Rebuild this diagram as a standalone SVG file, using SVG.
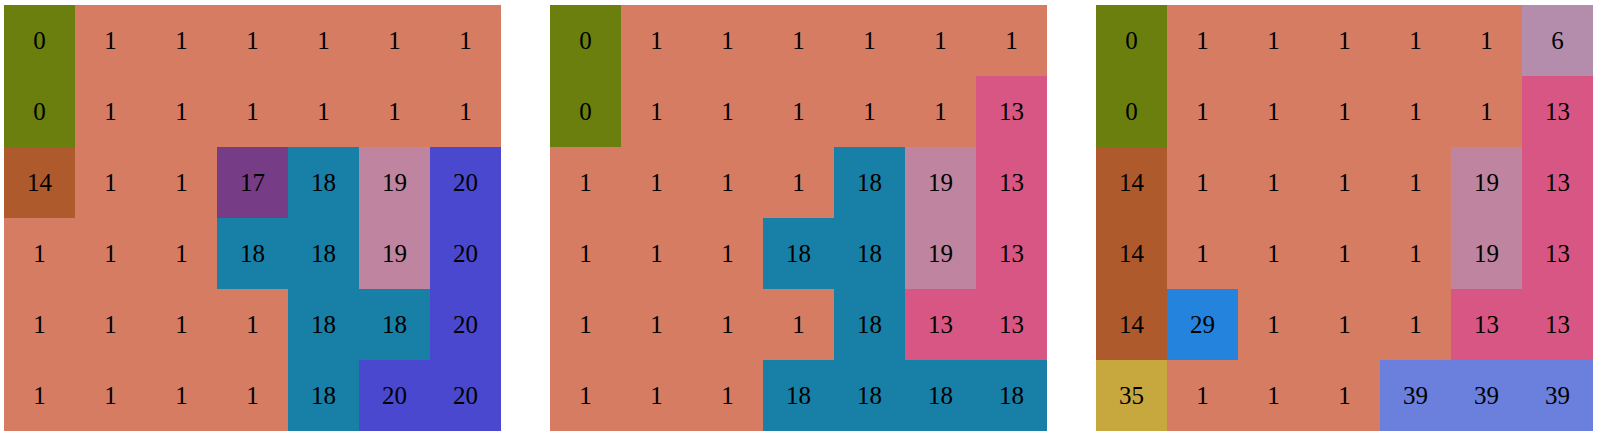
<svg xmlns="http://www.w3.org/2000/svg" width="1597" height="436" viewBox="0 0 1597 436">
<style>
text{font-family:"Liberation Serif","DejaVu Serif",serif;font-size:25px;fill:#000;text-anchor:middle}
rect{stroke:none}
.c0{fill:#6a7f0e}.c1{fill:#d67c62}.c14{fill:#ae5a2d}.c17{fill:#763c86}.c18{fill:#187fa7}.c19{fill:#bf849f}.c20{fill:#4a48cf}.c13{fill:#d85683}.c6{fill:#b38dab}.c29{fill:#2484dd}.c35{fill:#c7a83f}.c39{fill:#6a80dc}
</style>
<rect width="1597" height="436" fill="#fff"/>
<g id="grid1" transform="translate(4,5)">
<rect class="c0" x="0" y="0" width="71" height="71"/><text x="35.5" y="44">0</text>
<rect class="c1" x="71" y="0" width="71" height="71"/><text x="106.5" y="44">1</text>
<rect class="c1" x="142" y="0" width="71" height="71"/><text x="177.5" y="44">1</text>
<rect class="c1" x="213" y="0" width="71" height="71"/><text x="248.5" y="44">1</text>
<rect class="c1" x="284" y="0" width="71" height="71"/><text x="319.5" y="44">1</text>
<rect class="c1" x="355" y="0" width="71" height="71"/><text x="390.5" y="44">1</text>
<rect class="c1" x="426" y="0" width="71" height="71"/><text x="461.5" y="44">1</text>
<rect class="c0" x="0" y="71" width="71" height="71"/><text x="35.5" y="115">0</text>
<rect class="c1" x="71" y="71" width="71" height="71"/><text x="106.5" y="115">1</text>
<rect class="c1" x="142" y="71" width="71" height="71"/><text x="177.5" y="115">1</text>
<rect class="c1" x="213" y="71" width="71" height="71"/><text x="248.5" y="115">1</text>
<rect class="c1" x="284" y="71" width="71" height="71"/><text x="319.5" y="115">1</text>
<rect class="c1" x="355" y="71" width="71" height="71"/><text x="390.5" y="115">1</text>
<rect class="c1" x="426" y="71" width="71" height="71"/><text x="461.5" y="115">1</text>
<rect class="c14" x="0" y="142" width="71" height="71"/><text x="35.5" y="186">14</text>
<rect class="c1" x="71" y="142" width="71" height="71"/><text x="106.5" y="186">1</text>
<rect class="c1" x="142" y="142" width="71" height="71"/><text x="177.5" y="186">1</text>
<rect class="c17" x="213" y="142" width="71" height="71"/><text x="248.5" y="186">17</text>
<rect class="c18" x="284" y="142" width="71" height="71"/><text x="319.5" y="186">18</text>
<rect class="c19" x="355" y="142" width="71" height="71"/><text x="390.5" y="186">19</text>
<rect class="c20" x="426" y="142" width="71" height="71"/><text x="461.5" y="186">20</text>
<rect class="c1" x="0" y="213" width="71" height="71"/><text x="35.5" y="257">1</text>
<rect class="c1" x="71" y="213" width="71" height="71"/><text x="106.5" y="257">1</text>
<rect class="c1" x="142" y="213" width="71" height="71"/><text x="177.5" y="257">1</text>
<rect class="c18" x="213" y="213" width="71" height="71"/><text x="248.5" y="257">18</text>
<rect class="c18" x="284" y="213" width="71" height="71"/><text x="319.5" y="257">18</text>
<rect class="c19" x="355" y="213" width="71" height="71"/><text x="390.5" y="257">19</text>
<rect class="c20" x="426" y="213" width="71" height="71"/><text x="461.5" y="257">20</text>
<rect class="c1" x="0" y="284" width="71" height="71"/><text x="35.5" y="328">1</text>
<rect class="c1" x="71" y="284" width="71" height="71"/><text x="106.5" y="328">1</text>
<rect class="c1" x="142" y="284" width="71" height="71"/><text x="177.5" y="328">1</text>
<rect class="c1" x="213" y="284" width="71" height="71"/><text x="248.5" y="328">1</text>
<rect class="c18" x="284" y="284" width="71" height="71"/><text x="319.5" y="328">18</text>
<rect class="c18" x="355" y="284" width="71" height="71"/><text x="390.5" y="328">18</text>
<rect class="c20" x="426" y="284" width="71" height="71"/><text x="461.5" y="328">20</text>
<rect class="c1" x="0" y="355" width="71" height="71"/><text x="35.5" y="399">1</text>
<rect class="c1" x="71" y="355" width="71" height="71"/><text x="106.5" y="399">1</text>
<rect class="c1" x="142" y="355" width="71" height="71"/><text x="177.5" y="399">1</text>
<rect class="c1" x="213" y="355" width="71" height="71"/><text x="248.5" y="399">1</text>
<rect class="c18" x="284" y="355" width="71" height="71"/><text x="319.5" y="399">18</text>
<rect class="c20" x="355" y="355" width="71" height="71"/><text x="390.5" y="399">20</text>
<rect class="c20" x="426" y="355" width="71" height="71"/><text x="461.5" y="399">20</text>
</g>
<g id="grid2" transform="translate(550,5)">
<rect class="c0" x="0" y="0" width="71" height="71"/><text x="35.5" y="44">0</text>
<rect class="c1" x="71" y="0" width="71" height="71"/><text x="106.5" y="44">1</text>
<rect class="c1" x="142" y="0" width="71" height="71"/><text x="177.5" y="44">1</text>
<rect class="c1" x="213" y="0" width="71" height="71"/><text x="248.5" y="44">1</text>
<rect class="c1" x="284" y="0" width="71" height="71"/><text x="319.5" y="44">1</text>
<rect class="c1" x="355" y="0" width="71" height="71"/><text x="390.5" y="44">1</text>
<rect class="c1" x="426" y="0" width="71" height="71"/><text x="461.5" y="44">1</text>
<rect class="c0" x="0" y="71" width="71" height="71"/><text x="35.5" y="115">0</text>
<rect class="c1" x="71" y="71" width="71" height="71"/><text x="106.5" y="115">1</text>
<rect class="c1" x="142" y="71" width="71" height="71"/><text x="177.5" y="115">1</text>
<rect class="c1" x="213" y="71" width="71" height="71"/><text x="248.5" y="115">1</text>
<rect class="c1" x="284" y="71" width="71" height="71"/><text x="319.5" y="115">1</text>
<rect class="c1" x="355" y="71" width="71" height="71"/><text x="390.5" y="115">1</text>
<rect class="c13" x="426" y="71" width="71" height="71"/><text x="461.5" y="115">13</text>
<rect class="c1" x="0" y="142" width="71" height="71"/><text x="35.5" y="186">1</text>
<rect class="c1" x="71" y="142" width="71" height="71"/><text x="106.5" y="186">1</text>
<rect class="c1" x="142" y="142" width="71" height="71"/><text x="177.5" y="186">1</text>
<rect class="c1" x="213" y="142" width="71" height="71"/><text x="248.5" y="186">1</text>
<rect class="c18" x="284" y="142" width="71" height="71"/><text x="319.5" y="186">18</text>
<rect class="c19" x="355" y="142" width="71" height="71"/><text x="390.5" y="186">19</text>
<rect class="c13" x="426" y="142" width="71" height="71"/><text x="461.5" y="186">13</text>
<rect class="c1" x="0" y="213" width="71" height="71"/><text x="35.5" y="257">1</text>
<rect class="c1" x="71" y="213" width="71" height="71"/><text x="106.5" y="257">1</text>
<rect class="c1" x="142" y="213" width="71" height="71"/><text x="177.5" y="257">1</text>
<rect class="c18" x="213" y="213" width="71" height="71"/><text x="248.5" y="257">18</text>
<rect class="c18" x="284" y="213" width="71" height="71"/><text x="319.5" y="257">18</text>
<rect class="c19" x="355" y="213" width="71" height="71"/><text x="390.5" y="257">19</text>
<rect class="c13" x="426" y="213" width="71" height="71"/><text x="461.5" y="257">13</text>
<rect class="c1" x="0" y="284" width="71" height="71"/><text x="35.5" y="328">1</text>
<rect class="c1" x="71" y="284" width="71" height="71"/><text x="106.5" y="328">1</text>
<rect class="c1" x="142" y="284" width="71" height="71"/><text x="177.5" y="328">1</text>
<rect class="c1" x="213" y="284" width="71" height="71"/><text x="248.5" y="328">1</text>
<rect class="c18" x="284" y="284" width="71" height="71"/><text x="319.5" y="328">18</text>
<rect class="c13" x="355" y="284" width="71" height="71"/><text x="390.5" y="328">13</text>
<rect class="c13" x="426" y="284" width="71" height="71"/><text x="461.5" y="328">13</text>
<rect class="c1" x="0" y="355" width="71" height="71"/><text x="35.5" y="399">1</text>
<rect class="c1" x="71" y="355" width="71" height="71"/><text x="106.5" y="399">1</text>
<rect class="c1" x="142" y="355" width="71" height="71"/><text x="177.5" y="399">1</text>
<rect class="c18" x="213" y="355" width="71" height="71"/><text x="248.5" y="399">18</text>
<rect class="c18" x="284" y="355" width="71" height="71"/><text x="319.5" y="399">18</text>
<rect class="c18" x="355" y="355" width="71" height="71"/><text x="390.5" y="399">18</text>
<rect class="c18" x="426" y="355" width="71" height="71"/><text x="461.5" y="399">18</text>
</g>
<g id="grid3" transform="translate(1096,5)">
<rect class="c0" x="0" y="0" width="71" height="71"/><text x="35.5" y="44">0</text>
<rect class="c1" x="71" y="0" width="71" height="71"/><text x="106.5" y="44">1</text>
<rect class="c1" x="142" y="0" width="71" height="71"/><text x="177.5" y="44">1</text>
<rect class="c1" x="213" y="0" width="71" height="71"/><text x="248.5" y="44">1</text>
<rect class="c1" x="284" y="0" width="71" height="71"/><text x="319.5" y="44">1</text>
<rect class="c1" x="355" y="0" width="71" height="71"/><text x="390.5" y="44">1</text>
<rect class="c6" x="426" y="0" width="71" height="71"/><text x="461.5" y="44">6</text>
<rect class="c0" x="0" y="71" width="71" height="71"/><text x="35.5" y="115">0</text>
<rect class="c1" x="71" y="71" width="71" height="71"/><text x="106.5" y="115">1</text>
<rect class="c1" x="142" y="71" width="71" height="71"/><text x="177.5" y="115">1</text>
<rect class="c1" x="213" y="71" width="71" height="71"/><text x="248.5" y="115">1</text>
<rect class="c1" x="284" y="71" width="71" height="71"/><text x="319.5" y="115">1</text>
<rect class="c1" x="355" y="71" width="71" height="71"/><text x="390.5" y="115">1</text>
<rect class="c13" x="426" y="71" width="71" height="71"/><text x="461.5" y="115">13</text>
<rect class="c14" x="0" y="142" width="71" height="71"/><text x="35.5" y="186">14</text>
<rect class="c1" x="71" y="142" width="71" height="71"/><text x="106.5" y="186">1</text>
<rect class="c1" x="142" y="142" width="71" height="71"/><text x="177.5" y="186">1</text>
<rect class="c1" x="213" y="142" width="71" height="71"/><text x="248.5" y="186">1</text>
<rect class="c1" x="284" y="142" width="71" height="71"/><text x="319.5" y="186">1</text>
<rect class="c19" x="355" y="142" width="71" height="71"/><text x="390.5" y="186">19</text>
<rect class="c13" x="426" y="142" width="71" height="71"/><text x="461.5" y="186">13</text>
<rect class="c14" x="0" y="213" width="71" height="71"/><text x="35.5" y="257">14</text>
<rect class="c1" x="71" y="213" width="71" height="71"/><text x="106.5" y="257">1</text>
<rect class="c1" x="142" y="213" width="71" height="71"/><text x="177.5" y="257">1</text>
<rect class="c1" x="213" y="213" width="71" height="71"/><text x="248.5" y="257">1</text>
<rect class="c1" x="284" y="213" width="71" height="71"/><text x="319.5" y="257">1</text>
<rect class="c19" x="355" y="213" width="71" height="71"/><text x="390.5" y="257">19</text>
<rect class="c13" x="426" y="213" width="71" height="71"/><text x="461.5" y="257">13</text>
<rect class="c14" x="0" y="284" width="71" height="71"/><text x="35.5" y="328">14</text>
<rect class="c29" x="71" y="284" width="71" height="71"/><text x="106.5" y="328">29</text>
<rect class="c1" x="142" y="284" width="71" height="71"/><text x="177.5" y="328">1</text>
<rect class="c1" x="213" y="284" width="71" height="71"/><text x="248.5" y="328">1</text>
<rect class="c1" x="284" y="284" width="71" height="71"/><text x="319.5" y="328">1</text>
<rect class="c13" x="355" y="284" width="71" height="71"/><text x="390.5" y="328">13</text>
<rect class="c13" x="426" y="284" width="71" height="71"/><text x="461.5" y="328">13</text>
<rect class="c35" x="0" y="355" width="71" height="71"/><text x="35.5" y="399">35</text>
<rect class="c1" x="71" y="355" width="71" height="71"/><text x="106.5" y="399">1</text>
<rect class="c1" x="142" y="355" width="71" height="71"/><text x="177.5" y="399">1</text>
<rect class="c1" x="213" y="355" width="71" height="71"/><text x="248.5" y="399">1</text>
<rect class="c39" x="284" y="355" width="71" height="71"/><text x="319.5" y="399">39</text>
<rect class="c39" x="355" y="355" width="71" height="71"/><text x="390.5" y="399">39</text>
<rect class="c39" x="426" y="355" width="71" height="71"/><text x="461.5" y="399">39</text>
</g>
<g id="connectors"/>
</svg>
